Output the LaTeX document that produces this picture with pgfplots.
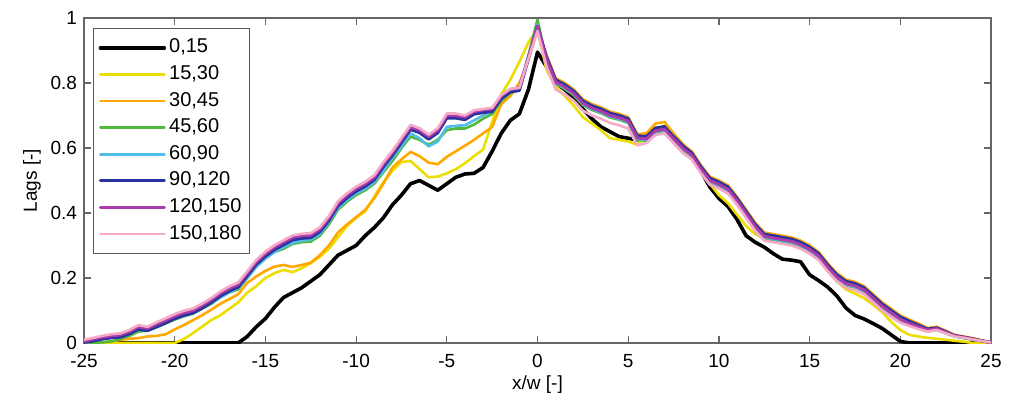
\documentclass[border=0pt]{standalone}
\usepackage{pgfplots}
\pgfplotsset{compat=1.18}
\usepackage{pgfplotstable}
\usepackage{fontspec}
\setmainfont{Liberation Sans}
\definecolor{cyel}{RGB}{235,222,0}
\definecolor{cora}{RGB}{255,168,0}
\definecolor{cgre}{RGB}{80,185,60}
\definecolor{ccya}{RGB}{80,190,230}
\definecolor{cblu}{RGB}{40,50,160}
\definecolor{cpur}{RGB}{170,60,170}
\definecolor{cpin}{RGB}{245,170,200}
\pgfplotstableread{
x k y o g c b p pk
-25 0 0 0 0 0.003 0.002 0.005 0.01
-24.5 0 0 0 0 0.008 0.006 0.012 0.016
-24 0 0 0.002 0.002 0.012 0.012 0.018 0.022
-23.5 0 0 0.005 0.005 0.016 0.016 0.022 0.027
-23 0 0 0.01 0.012 0.02 0.018 0.025 0.03
-22.5 0 0 0.013 0.022 0.03 0.028 0.035 0.04
-22 0 0 0.015 0.035 0.04 0.042 0.05 0.055
-21.5 0 0 0.02 0.038 0.042 0.038 0.045 0.05
-21 0 0 0.022 0.048 0.05 0.05 0.058 0.064
-20.5 0 0 0.027 0.06 0.063 0.062 0.07 0.076
-20 0 0 0.042 0.072 0.075 0.075 0.083 0.089
-19.5 0 0.012 0.055 0.082 0.085 0.085 0.093 0.099
-19 0 0.03 0.07 0.09 0.092 0.092 0.10 0.106
-18.5 0 0.05 0.085 0.105 0.107 0.107 0.115 0.121
-18 0 0.07 0.102 0.12 0.122 0.124 0.132 0.138
-17.5 0 0.085 0.12 0.14 0.14 0.144 0.152 0.158
-17 0 0.105 0.135 0.155 0.155 0.16 0.168 0.174
-16.5 0 0.125 0.15 0.165 0.17 0.172 0.18 0.186
-16 0.02 0.155 0.185 0.2 0.2 0.207 0.215 0.221
-15.5 0.05 0.175 0.205 0.235 0.235 0.242 0.25 0.256
-15 0.075 0.2 0.222 0.26 0.26 0.267 0.275 0.281
-14.5 0.11 0.215 0.235 0.28 0.28 0.287 0.295 0.301
-14 0.14 0.225 0.24 0.29 0.295 0.302 0.31 0.316
-13.5 0.155 0.218 0.234 0.305 0.308 0.317 0.325 0.331
-13 0.17 0.23 0.24 0.31 0.315 0.322 0.33 0.336
-12.5 0.19 0.246 0.247 0.312 0.318 0.324 0.332 0.338
-12 0.21 0.265 0.27 0.33 0.335 0.342 0.35 0.356
-11.5 0.24 0.29 0.3 0.365 0.372 0.377 0.385 0.391
-11 0.27 0.325 0.34 0.41 0.415 0.422 0.43 0.436
-10.5 0.285 0.36 0.365 0.435 0.44 0.447 0.455 0.461
-10 0.30 0.385 0.387 0.455 0.46 0.467 0.475 0.481
-9.5 0.33 0.405 0.41 0.47 0.475 0.482 0.49 0.496
-9 0.355 0.45 0.445 0.49 0.495 0.502 0.51 0.516
-8.5 0.385 0.495 0.49 0.525 0.53 0.542 0.55 0.556
-8 0.425 0.53 0.54 0.56 0.57 0.577 0.585 0.591
-7.5 0.455 0.557 0.565 0.60 0.605 0.617 0.625 0.631
-7 0.49 0.56 0.588 0.635 0.645 0.657 0.665 0.671
-6.5 0.50 0.535 0.575 0.625 0.63 0.647 0.655 0.661
-6 0.485 0.51 0.555 0.61 0.605 0.627 0.635 0.641
-5.5 0.47 0.512 0.55 0.625 0.62 0.647 0.655 0.661
-5 0.49 0.522 0.573 0.655 0.665 0.692 0.70 0.706
-4.5 0.51 0.535 0.59 0.66 0.668 0.692 0.70 0.706
-4 0.52 0.553 0.607 0.66 0.67 0.687 0.695 0.70
-3.5 0.522 0.575 0.625 0.672 0.685 0.704 0.712 0.716
-3 0.54 0.595 0.645 0.69 0.70 0.709 0.717 0.72
-2.5 0.59 0.68 0.665 0.705 0.715 0.712 0.72 0.724
-2 0.645 0.765 0.735 0.745 0.755 0.752 0.76 0.763
-1.5 0.685 0.81 0.76 0.77 0.775 0.772 0.78 0.782
-1 0.705 0.865 0.80 0.78 0.78 0.777 0.785 0.785
-0.5 0.78 0.925 0.87 0.885 0.88 0.875 0.88 0.875
0 0.895 0.965 0.965 0.995 0.98 0.975 0.975 0.96
0.5 0.85 0.84 0.885 0.867 0.87 0.88 0.873 0.85
1 0.80 0.79 0.815 0.797 0.80 0.81 0.803 0.78
1.5 0.78 0.76 0.80 0.782 0.785 0.795 0.788 0.765
2 0.755 0.73 0.78 0.762 0.765 0.775 0.768 0.745
2.5 0.72 0.695 0.75 0.732 0.735 0.745 0.738 0.715
3 0.69 0.675 0.735 0.717 0.72 0.73 0.723 0.70
3.5 0.665 0.655 0.725 0.707 0.71 0.72 0.713 0.69
4 0.65 0.63 0.712 0.694 0.697 0.707 0.70 0.677
4.5 0.635 0.625 0.705 0.687 0.69 0.70 0.693 0.67
5 0.63 0.62 0.695 0.677 0.68 0.69 0.683 0.66
5.5 0.625 0.61 0.643 0.625 0.628 0.638 0.631 0.608
6 0.64 0.635 0.645 0.622 0.625 0.635 0.628 0.615
6.5 0.66 0.655 0.675 0.647 0.65 0.66 0.653 0.64
7 0.665 0.66 0.68 0.652 0.655 0.665 0.658 0.645
7.5 0.64 0.635 0.645 0.622 0.625 0.635 0.628 0.615
8 0.61 0.605 0.612 0.594 0.597 0.607 0.60 0.585
8.5 0.575 0.575 0.59 0.572 0.575 0.585 0.578 0.565
9 0.53 0.535 0.548 0.53 0.533 0.543 0.536 0.523
9.5 0.48 0.49 0.512 0.494 0.497 0.507 0.50 0.487
10 0.445 0.455 0.50 0.482 0.485 0.495 0.488 0.475
10.5 0.42 0.43 0.485 0.467 0.47 0.48 0.473 0.46
11 0.38 0.395 0.45 0.432 0.435 0.445 0.438 0.425
11.5 0.33 0.36 0.41 0.392 0.395 0.405 0.398 0.385
12 0.31 0.335 0.37 0.352 0.355 0.365 0.358 0.345
12.5 0.295 0.322 0.34 0.322 0.325 0.335 0.328 0.315
13 0.275 0.32 0.335 0.317 0.32 0.33 0.323 0.31
13.5 0.258 0.315 0.33 0.312 0.315 0.325 0.318 0.305
14 0.255 0.31 0.325 0.307 0.31 0.32 0.313 0.30
14.5 0.25 0.30 0.315 0.297 0.30 0.31 0.303 0.29
15 0.21 0.285 0.30 0.282 0.285 0.295 0.288 0.275
15.5 0.192 0.265 0.28 0.262 0.265 0.275 0.268 0.255
16 0.172 0.225 0.245 0.227 0.23 0.24 0.233 0.22
16.5 0.145 0.19 0.215 0.197 0.20 0.21 0.203 0.19
17 0.108 0.165 0.195 0.177 0.18 0.19 0.183 0.17
17.5 0.085 0.152 0.188 0.17 0.173 0.183 0.176 0.163
18 0.074 0.138 0.175 0.157 0.16 0.17 0.163 0.15
18.5 0.06 0.118 0.15 0.132 0.135 0.145 0.138 0.125
19 0.045 0.095 0.125 0.107 0.11 0.12 0.113 0.10
19.5 0.025 0.065 0.105 0.087 0.09 0.10 0.093 0.08
20 0.005 0.04 0.085 0.067 0.07 0.08 0.073 0.062
20.5 0 0.025 0.072 0.055 0.058 0.067 0.06 0.052
21 0 0.02 0.06 0.045 0.048 0.055 0.05 0.043
21.5 0 0.016 0.046 0.036 0.038 0.043 0.04 0.035
22 0 0.013 0.05 0.04 0.042 0.047 0.044 0.04
22.5 0 0.01 0.038 0.03 0.031 0.035 0.033 0.03
23 0 0.007 0.025 0.02 0.02 0.023 0.022 0.02
23.5 0 0.004 0.02 0.015 0.016 0.018 0.017 0.016
24 0 0 0.015 0.01 0.011 0.013 0.012 0.011
24.5 0 0 0.008 0.005 0.006 0.007 0.006 0.006
25 0 0 0.002 0.002 0.002 0.002 0.002 0.002
}\lagdata
\begin{document}
\begin{tikzpicture}
\begin{axis}[
  scale only axis, width=453.5pt, height=162.5pt,
  xmin=-25, xmax=25, ymin=0, ymax=1,
  xtick={-25,-20,-15,-10,-5,0,5,10,15,20,25},
  ytick={0,0.2,0.4,0.6,0.8,1},
  tick align=inside, major tick length=3.5pt,
  axis line style={draw=black!60, line width=0.7pt},
  every tick/.style={draw=black!60, line width=0.6pt},
  tick label style={font=\fontsize{9.5}{11}\selectfont, text=black},
  xticklabel style={yshift=-2pt},
  /pgf/number format/assume math mode=true,
  xlabel={x/w [-]}, ylabel={Lags [-]},
  label style={font=\fontsize{9.5}{11}\selectfont},
  xlabel style={at={(axis description cs:0.5,-0.129)}, anchor=center},
  ylabel style={at={(axis description cs:-0.0573,0.5)}, anchor=center},
  legend style={at={(axis description cs:0.0099,0.969)}, anchor=north west,
    draw=black!65, line width=0.6pt, fill=white,
    font=\fontsize{10}{11}\selectfont, inner xsep=2.5pt, inner ysep=3pt,
    row sep=0pt,
    nodes={inner xsep=1.5pt, inner ysep=2.15pt, text height=7pt, text depth=2pt}},
  legend cell align=left,
  legend image code/.code={\draw[#1] (0pt,0pt) -- (32pt,0pt);},
  every axis plot/.append style={line join=round, line cap=round},
]
\addplot[black, line width=1.8pt] table[x=x,y=k] {\lagdata};
\addlegendentry{0,15}
\addplot[cyel, line width=1.3pt] table[x=x,y=y] {\lagdata};
\addlegendentry{15,30}
\addplot[cora, line width=1.3pt] table[x=x,y=o] {\lagdata};
\addlegendentry{30,45}
\addplot[cgre, line width=1.3pt] table[x=x,y=g] {\lagdata};
\addlegendentry{45,60}
\addplot[ccya, line width=1.3pt] table[x=x,y=c] {\lagdata};
\addlegendentry{60,90}
\addplot[cblu, line width=1.5pt] table[x=x,y=b] {\lagdata};
\addlegendentry{90,120}
\addplot[cpur, line width=1.5pt] table[x=x,y=p] {\lagdata};
\addlegendentry{120,150}
\addplot[cpin, line width=1.3pt] table[x=x,y=pk] {\lagdata};
\addlegendentry{150,180}
\end{axis}
\pgfresetboundingbox
\path (-42pt,-29pt) rectangle (463pt,171.5pt);
\end{tikzpicture}
\end{document}
